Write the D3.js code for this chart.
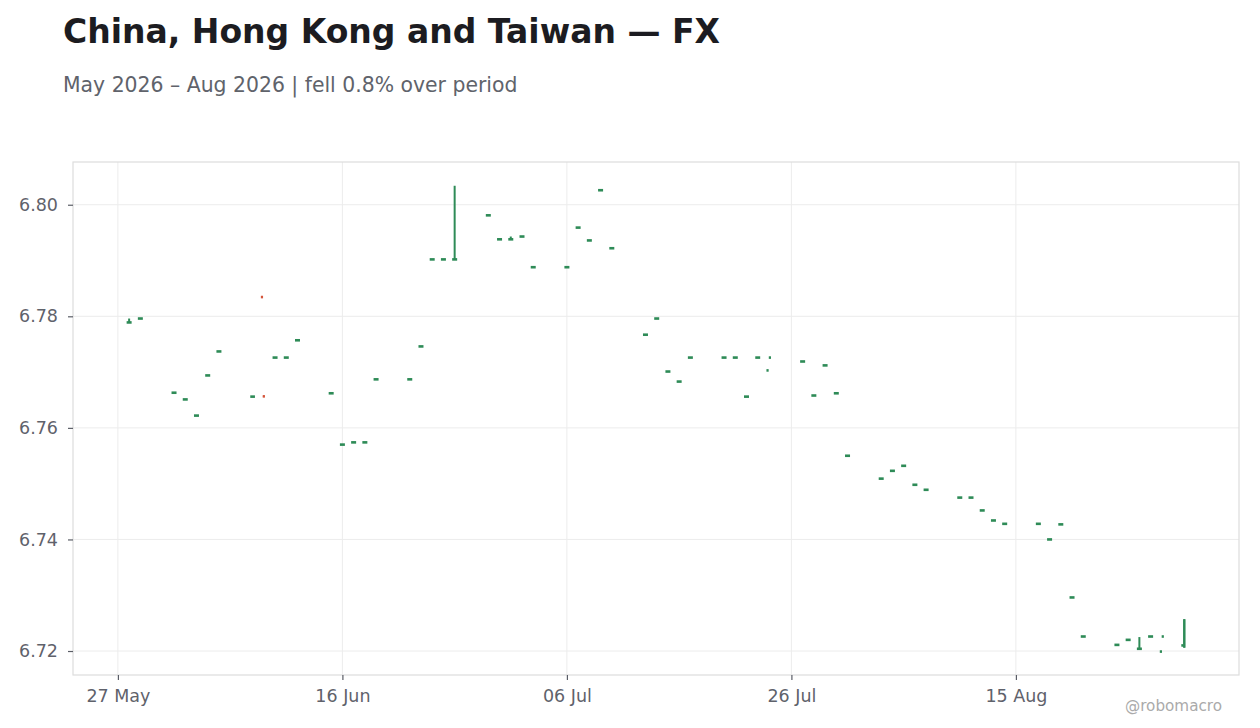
<!DOCTYPE html>
<html>
<head>
<meta charset="utf-8">
<script src="https://cdn.jsdelivr.net/npm/d3@7"></script>
<style>
  html, body { margin: 0; padding: 0; background: #fff; }
  svg { display: block; font-family: "DejaVu Sans", sans-serif; }
</style>
</head>
<body>
<div id="chart"></div>
<script>
// Candles, one per trading day (a few days carry two prints)
const dates = [
  "2026-05-28", "2026-05-29",
  "2026-06-01", "2026-06-02", "2026-06-03", "2026-06-04", "2026-06-05",
  "2026-06-08", "2026-06-08T20:00", "2026-06-09T00:00", "2026-06-10", "2026-06-11", "2026-06-12",
  "2026-06-15", "2026-06-16", "2026-06-17", "2026-06-18", "2026-06-19",
  "2026-06-22", "2026-06-23", "2026-06-24", "2026-06-25", "2026-06-26",
  "2026-06-29", "2026-06-30", "2026-07-01", "2026-07-02", "2026-07-03",
  "2026-07-06", "2026-07-07", "2026-07-08", "2026-07-09", "2026-07-10",
  "2026-07-13", "2026-07-14", "2026-07-15", "2026-07-16", "2026-07-17",
  "2026-07-20", "2026-07-21", "2026-07-22", "2026-07-23", "2026-07-23T21:00", "2026-07-24T02:00",
  "2026-07-27", "2026-07-28", "2026-07-29", "2026-07-30", "2026-07-31",
  "2026-08-03", "2026-08-04", "2026-08-05", "2026-08-06", "2026-08-07",
  "2026-08-10", "2026-08-11", "2026-08-12", "2026-08-13", "2026-08-14",
  "2026-08-17", "2026-08-18", "2026-08-19", "2026-08-20", "2026-08-21",
  "2026-08-24", "2026-08-25", "2026-08-26", "2026-08-27", "2026-08-27T22:00", "2026-08-28T02:00",
  "2026-08-29T20:00", "2026-08-30T00:00"
];
const open = [
  6.7789, 6.7796,
  6.7663, 6.7651, 6.7622, 6.7694, 6.7737,
  6.7656, 6.7835, 6.7657, 6.7726, 6.7726, 6.7757,
  6.7662, 6.7570, 6.7574, 6.7574, 6.7687,
  6.7687, 6.7746, 6.7902, 6.7902, 6.7902,
  6.7981, 6.7938, 6.7938, 6.7943, 6.7888,
  6.7888, 6.7959, 6.7936, 6.8026, 6.7922,
  6.7767, 6.7796, 6.7701, 6.7683, 6.7726,
  6.7726, 6.7726, 6.7656, 6.7726, 6.7703, 6.7726,
  6.7719, 6.7658, 6.7712, 6.7662, 6.7550,
  6.7509, 6.7523, 6.7532, 6.7498, 6.7489,
  6.7475, 6.7475, 6.7452, 6.7434, 6.7428,
  6.7428, 6.7400, 6.7427, 6.7296, 6.7226,
  6.7211, 6.7220, 6.7204, 6.7226, 6.7199, 6.7226,
  6.7210, 6.7206
];
const high = [
  6.7796, 6.7796,
  6.7663, 6.7651, 6.7622, 6.7694, 6.7737,
  6.7656, 6.7835, 6.7657, 6.7726, 6.7726, 6.7757,
  6.7662, 6.7570, 6.7574, 6.7574, 6.7687,
  6.7687, 6.7746, 6.7902, 6.7902, 6.8034,
  6.7981, 6.7938, 6.7943, 6.7943, 6.7888,
  6.7888, 6.7959, 6.7936, 6.8026, 6.7922,
  6.7767, 6.7796, 6.7701, 6.7683, 6.7726,
  6.7726, 6.7726, 6.7656, 6.7726, 6.7703, 6.7726,
  6.7719, 6.7658, 6.7712, 6.7662, 6.7550,
  6.7509, 6.7523, 6.7532, 6.7498, 6.7489,
  6.7475, 6.7475, 6.7452, 6.7434, 6.7428,
  6.7428, 6.7400, 6.7427, 6.7296, 6.7226,
  6.7211, 6.7220, 6.7225, 6.7226, 6.7199, 6.7226,
  6.7210, 6.7257
];
const low = [
  6.7789, 6.7796,
  6.7663, 6.7651, 6.7622, 6.7694, 6.7737,
  6.7656, 6.7834, 6.7656, 6.7726, 6.7726, 6.7757,
  6.7662, 6.7570, 6.7574, 6.7574, 6.7687,
  6.7687, 6.7746, 6.7902, 6.7902, 6.7902,
  6.7981, 6.7938, 6.7938, 6.7943, 6.7888,
  6.7888, 6.7959, 6.7936, 6.8026, 6.7922,
  6.7767, 6.7796, 6.7701, 6.7683, 6.7726,
  6.7726, 6.7726, 6.7656, 6.7726, 6.7703, 6.7726,
  6.7719, 6.7658, 6.7712, 6.7662, 6.7550,
  6.7509, 6.7523, 6.7532, 6.7498, 6.7489,
  6.7475, 6.7475, 6.7452, 6.7434, 6.7428,
  6.7428, 6.7400, 6.7427, 6.7296, 6.7226,
  6.7211, 6.7220, 6.7204, 6.7226, 6.7199, 6.7226,
  6.7210, 6.7206
];
const close = [
  6.7789, 6.7796,
  6.7663, 6.7651, 6.7622, 6.7694, 6.7737,
  6.7656, 6.7834, 6.7656, 6.7726, 6.7726, 6.7757,
  6.7662, 6.7570, 6.7574, 6.7574, 6.7687,
  6.7687, 6.7746, 6.7902, 6.7902, 6.7902,
  6.7981, 6.7938, 6.7938, 6.7943, 6.7888,
  6.7888, 6.7959, 6.7936, 6.8026, 6.7922,
  6.7767, 6.7796, 6.7701, 6.7683, 6.7726,
  6.7726, 6.7726, 6.7656, 6.7726, 6.7703, 6.7726,
  6.7719, 6.7658, 6.7712, 6.7662, 6.7550,
  6.7509, 6.7523, 6.7532, 6.7498, 6.7489,
  6.7475, 6.7475, 6.7452, 6.7434, 6.7428,
  6.7428, 6.7400, 6.7427, 6.7296, 6.7226,
  6.7211, 6.7220, 6.7204, 6.7226, 6.7199, 6.7226,
  6.7210, 6.7257
];

const xTicks = ["2026-05-27", "2026-06-16", "2026-07-06", "2026-07-26", "2026-08-15"];
const yTicks = [6.72, 6.74, 6.76, 6.78, 6.80];
const xDomain = ["2026-05-23T00:00", "2026-09-03T21:00"];
const yDomain = [6.7157, 6.80766];

const title = "China, Hong Kong and Taiwan \u2014 FX";
const subtitle = "May 2026 \u2013 Aug 2026 | fell 0.8% over period";
const credit = "@robomacro";

const parse = s => new Date(s.length > 10 ? s + ":00Z" : s + "T00:00:00Z");

const candles = dates.map((d, i) => ({
  date: parse(d), open: open[i], high: high[i], low: low[i], close: close[i]
}));

const width = 1260, height = 728;
const margin = {top: 162, right: 21, bottom: 53, left: 73};

const svg = d3.select("#chart").append("svg")
  .attr("width", width)
  .attr("height", height);

const x = d3.scaleUtc()
  .domain(xDomain.map(parse))
  .range([margin.left, width - margin.right]);

const y = d3.scaleLinear()
  .domain(yDomain)
  .range([height - margin.bottom, margin.top]);

// grid
svg.append("g")
  .selectAll("line.gx")
  .data(xTicks.map(parse))
  .join("line")
  .attr("x1", d => x(d)).attr("x2", d => x(d))
  .attr("y1", margin.top).attr("y2", height - margin.bottom)
  .attr("stroke", "#ececec").attr("stroke-width", 1);

svg.append("g")
  .selectAll("line.gy")
  .data(yTicks)
  .join("line")
  .attr("x1", margin.left).attr("x2", width - margin.right)
  .attr("y1", d => y(d)).attr("y2", d => y(d))
  .attr("stroke", "#ececec").attr("stroke-width", 1);

// frame
svg.append("rect")
  .attr("x", margin.left).attr("y", margin.top)
  .attr("width", width - margin.left - margin.right)
  .attr("height", height - margin.top - margin.bottom)
  .attr("fill", "none")
  .attr("stroke", "#dddddd")
  .attr("stroke-width", 1.2);

// axes
const xAxis = svg.append("g")
  .attr("transform", `translate(0,${height - margin.bottom})`)
  .call(d3.axisBottom(x)
    .tickValues(xTicks.map(parse))
    .tickFormat(d3.utcFormat("%d %b"))
    .tickSize(5)
    .tickPadding(10));

const yAxis = svg.append("g")
  .attr("transform", `translate(${margin.left},0)`)
  .call(d3.axisLeft(y)
    .tickValues(yTicks)
    .tickFormat(d3.format(".2f"))
    .tickSize(5)
    .tickPadding(10));

[xAxis, yAxis].forEach(g => {
  g.select(".domain").remove();
  g.selectAll(".tick line").attr("stroke", "#5a5d66").attr("stroke-width", 1.2);
  g.selectAll(".tick text")
    .attr("fill", "#5f626b")
    .style("font-family", "DejaVu Sans")
    .style("font-size", "17.5px");
});

// candles
const upColor = "#2e8b57", downColor = "#d4553b";
const px = candles.map(d => x(d.date));
const bodyW = px.map((p, i) => {
  const gaps = [];
  if (i > 0) gaps.push(p - px[i - 1]);
  if (i < px.length - 1) gaps.push(px[i + 1] - p);
  return Math.max(2.2, Math.min(5, d3.min(gaps) * 0.5));
});
const minH = 2.6;

const g = svg.append("g");

g.selectAll("line.wick")
  .data(candles)
  .join("line")
  .attr("class", "wick")
  .attr("x1", (d, i) => px[i]).attr("x2", (d, i) => px[i])
  .attr("y1", d => y(d.high)).attr("y2", d => y(d.low))
  .attr("stroke", d => d.close >= d.open ? upColor : downColor)
  .attr("stroke-width", 2);

g.selectAll("rect.body")
  .data(candles)
  .join("rect")
  .attr("class", "body")
  .attr("x", (d, i) => px[i] - bodyW[i] / 2)
  .attr("width", (d, i) => bodyW[i])
  .attr("y", d => {
    const top = y(Math.max(d.open, d.close)), bot = y(Math.min(d.open, d.close));
    return bot - top < minH ? (top + bot) / 2 - minH / 2 : top;
  })
  .attr("height", d => Math.max(minH, y(Math.min(d.open, d.close)) - y(Math.max(d.open, d.close))))
  .attr("fill", d => d.close >= d.open ? upColor : downColor);

// titles
svg.append("text")
  .attr("x", 63).attr("y", 43)
  .attr("fill", "#1c1c21")
  .style("font-size", "33px")
  .style("font-weight", "bold")
  .text(title);

svg.append("text")
  .attr("x", 63).attr("y", 92)
  .attr("fill", "#60636b")
  .style("font-size", "20.4px")
  .text(subtitle);

svg.append("text")
  .attr("x", 1222).attr("y", 711)
  .attr("text-anchor", "end")
  .attr("fill", "#aaaaaa")
  .style("font-size", "15.2px")
  .text(credit);
</script>
</body>
</html>
